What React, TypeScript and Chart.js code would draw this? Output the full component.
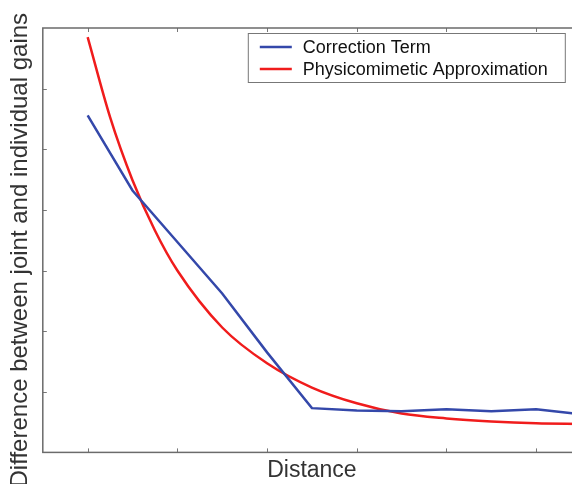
import React, { useEffect, useRef } from "react";
import { Chart, registerables } from "chart.js";

Chart.register(...registerables);

const distance = [1, 1.5, 2, 2.5, 3, 3.5, 4, 4.5, 5, 5.5, 6, 6.5];
const correctionTerm = [5.56, 4.32, 3.47, 2.62, 1.65, 0.73, 0.69, 0.68, 0.71, 0.68, 0.71, 0.63];
const physicoX = [1, 1.25, 1.5, 1.75, 2, 2.5, 3, 3.5, 4, 4.5, 5, 5.5, 6, 6.5];
const physicoApprox = [6.85, 5.53, 4.49, 3.66, 3.0, 2.06, 1.47, 1.07, 0.81, 0.64, 0.56, 0.51, 0.48, 0.47];
const xTicks = [1, 2, 3, 4, 5, 6];
const yTicks = [1, 2, 3, 4, 5, 6];

const seriesLabels = ["Correction Term", "Physicomimetic Approximation"];
const xTitle = "Distance";
const yTitle = "Difference between joint and individual gains";
const BLUE = "rgb(52,72,170)";
const RED = "rgb(240,28,28)";

const framePlugin = {
  id: "frameAndLegend",
  afterDraw(chart: any) {
    const { ctx, chartArea } = chart;
    const xs = chart.scales.x;
    const ys = chart.scales.y;
    ctx.save();
    ctx.strokeStyle = "#777";
    ctx.lineWidth = 1;
    ctx.beginPath();
    xTicks.forEach((t) => {
      const px = Math.round(xs.getPixelForValue(t)) + 0.5;
      ctx.moveTo(px, chartArea.bottom);
      ctx.lineTo(px, chartArea.bottom - 4);
      ctx.moveTo(px, chartArea.top);
      ctx.lineTo(px, chartArea.top + 4);
    });
    yTicks.forEach((t) => {
      const py = Math.round(ys.getPixelForValue(t)) + 0.5;
      ctx.moveTo(chartArea.left, py);
      ctx.lineTo(chartArea.left + 4, py);
      ctx.moveTo(chartArea.right, py);
      ctx.lineTo(chartArea.right - 4, py);
    });
    ctx.stroke();
    ctx.strokeStyle = "#6b6b6b";
    ctx.lineWidth = 1.5;
    ctx.strokeRect(chartArea.left, chartArea.top, chartArea.right - chartArea.left, chartArea.bottom - chartArea.top);

    const bx = chartArea.left + 205;
    const by = chartArea.top + 5;
    const bw = 317;
    const bh = 49;
    ctx.fillStyle = "#fff";
    ctx.fillRect(bx, by, bw, bh);
    ctx.strokeStyle = "#777";
    ctx.lineWidth = 1;
    ctx.strokeRect(bx + 0.5, by + 0.5, bw, bh);
    ctx.font = "18px 'Liberation Sans', Arial, sans-serif";
    ctx.textBaseline = "middle";
    chart.data.datasets.forEach((ds: any, i: number) => {
      const y = by + 14 + i * 22;
      ctx.strokeStyle = ds.borderColor;
      ctx.lineWidth = 2.5;
      ctx.beginPath();
      ctx.moveTo(bx + 12, y);
      ctx.lineTo(bx + 44, y);
      ctx.stroke();
      ctx.fillStyle = "#111";
      ctx.fillText(ds.label, bx + 55, y + 1);
    });
    ctx.restore();
  },
};

export default function App() {
  const ref = useRef<HTMLCanvasElement>(null);
  useEffect(() => {
    if (!ref.current) return;
    const chart = new Chart(ref.current, {
      type: "line",
      data: {
        datasets: [
          {
            label: seriesLabels[0],
            data: distance.map((x, i) => ({ x, y: correctionTerm[i] })),
            borderColor: BLUE,
            borderWidth: 2.5,
            pointRadius: 0,
            tension: 0,
          },
          {
            label: seriesLabels[1],
            data: physicoX.map((x, i) => ({ x, y: physicoApprox[i] })),
            borderColor: RED,
            borderWidth: 2.5,
            pointRadius: 0,
            cubicInterpolationMode: "monotone",
          },
        ],
      },
      options: {
        animation: false,
        responsive: false,
        layout: { padding: { top: 28, right: 19, left: 0, bottom: 0 } },
        plugins: { legend: { display: false }, tooltip: { enabled: false } },
        scales: {
          x: {
            type: "linear",
            min: 0.5,
            max: 6.5,
            grid: { display: false, drawTicks: false },
            border: { display: false },
            ticks: { display: false },
            title: {
              display: true,
              text: xTitle,
              color: "#333",
              font: { size: 23, family: "'Liberation Sans', Arial, sans-serif" },
              padding: { top: 4, bottom: 0 },
            },
          },
          y: {
            type: "linear",
            min: 0,
            max: 7,
            grid: { display: false, drawTicks: false },
            border: { display: false },
            ticks: { display: false },
            title: {
              display: true,
              text: yTitle + "   ",
              color: "#333",
              font: { size: 24, family: "'Liberation Sans', Arial, sans-serif" },
              padding: { top: 6, bottom: 8 },
            },
          },
        },
      },
      plugins: [framePlugin],
    });
    return () => chart.destroy();
  }, []);
  return (
    <div style={{ position: "fixed", left: 0, top: 0, width: 572, height: 484, overflow: "hidden", background: "#fff" }}>
      <canvas ref={ref} width={600} height={484} style={{ display: "block" }} />
    </div>
  );
}
